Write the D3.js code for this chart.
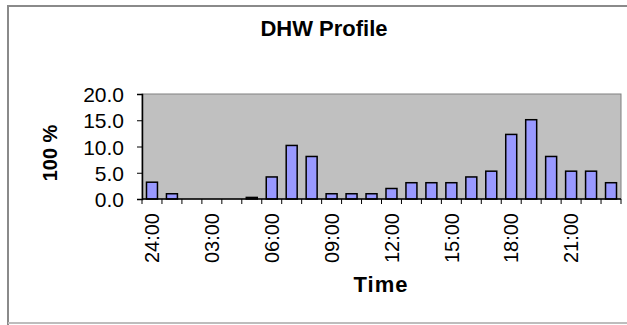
<!DOCTYPE html>
<html>
<head>
<meta charset="utf-8">
<script src="https://cdn.jsdelivr.net/npm/d3@7"></script>
<style>
  html, body { margin: 0; padding: 0; background: #fff; }
  svg text { font-family: "Liberation Sans", Arial, sans-serif; fill: #000; }
</style>
</head>
<body>
<svg id="chart" width="627" height="325"></svg>
<script>
// Hourly domestic hot water draw profile (% of daily volume)
const hours = ["24:00","01:00","02:00","03:00","04:00","05:00","06:00","07:00",
               "08:00","09:00","10:00","11:00","12:00","13:00","14:00","15:00",
               "16:00","17:00","18:00","19:00","20:00","21:00","22:00","23:00"];
const share = [3.2, 1.0, 0, 0, 0, 0.3, 4.2, 10.2, 8.1, 1.0, 1.0, 1.0,
               2.0, 3.1, 3.1, 3.1, 4.2, 5.3, 12.3, 15.1, 8.1, 5.3, 5.3, 3.1];
const yTicks = [0, 5, 10, 15, 20];
const shownHours = ["24:00","03:00","06:00","09:00","12:00","15:00","18:00","21:00"];

const svg = d3.select("#chart");
const plot = { left: 142, right: 621, top: 94, bottom: 199 };

// outer frame of the chart object
svg.append("path")
  .attr("d", "M8,330 V6 H640")
  .attr("fill", "none").attr("stroke", "#8a8a8a").attr("stroke-width", 2);
svg.append("line")
  .attr("x1", 8).attr("x2", 640).attr("y1", 323).attr("y2", 323)
  .attr("stroke", "#bdbdbd").attr("stroke-width", 2);

const x = d3.scaleBand().domain(hours).range([plot.left, plot.right])
  .paddingInner(0.45).paddingOuter(0.225);
const y = d3.scaleLinear().domain([0, 20]).range([plot.bottom, plot.top]);

// plot area
svg.append("rect")
  .attr("x", plot.left).attr("y", plot.top)
  .attr("width", plot.right - plot.left).attr("height", plot.bottom - plot.top)
  .attr("fill", "#c0c0c0").attr("stroke", "#808080").attr("stroke-width", 1);

// bars
svg.append("g").selectAll("rect")
  .data(hours.map((h, i) => ({ h, v: share[i] })).filter(d => d.v > 0))
  .join("rect")
  .attr("x", d => x(d.h))
  .attr("y", d => y(d.v))
  .attr("width", x.bandwidth())
  .attr("height", d => y(0) - y(d.v))
  .attr("fill", "#9999ff")
  .attr("stroke", "#000").attr("stroke-width", 1.5);

// y axis
const yAxis = svg.append("g")
  .attr("transform", `translate(${plot.left},0)`)
  .call(d3.axisLeft(y).tickValues(yTicks).tickFormat(d3.format(".1f"))
    .tickSize(5).tickPadding(13));
yAxis.select(".domain").attr("stroke", "#000").attr("stroke-width", 1.5);
yAxis.selectAll(".tick line").attr("stroke", "#000");
yAxis.selectAll("text").style("font-size", "21px").attr("dy", "0.36em");

// x axis: tick marks on category boundaries, labels every third hour
const xg = svg.append("g");
xg.append("line")
  .attr("x1", plot.left).attr("x2", plot.right)
  .attr("y1", plot.bottom).attr("y2", plot.bottom)
  .attr("stroke", "#000").attr("stroke-width", 1.5);
xg.selectAll("line.tk")
  .data(d3.range(hours.length + 1))
  .join("line").attr("class", "tk")
  .attr("x1", i => plot.left + i * x.step())
  .attr("x2", i => plot.left + i * x.step())
  .attr("y1", plot.bottom).attr("y2", plot.bottom + 5)
  .attr("stroke", "#000");
xg.selectAll("text")
  .data(shownHours)
  .join("text")
  .attr("transform", d => `translate(${x(d) + x.bandwidth() / 2},${plot.bottom + 14}) rotate(-90)`)
  .attr("text-anchor", "end")
  .attr("dy", "0.36em")
  .style("font-size", "20px")
  .text(d => d);

// titles
svg.append("text")
  .attr("x", 324).attr("y", 36)
  .attr("text-anchor", "middle")
  .style("font-size", "22px").style("font-weight", "bold")
  .text("DHW Profile");
svg.append("text")
  .attr("x", 381).attr("y", 292)
  .attr("text-anchor", "middle")
  .style("font-size", "22px").style("font-weight", "bold")
  .style("letter-spacing", "1px")
  .text("Time");
svg.append("text")
  .attr("transform", "translate(50,153) rotate(-90)")
  .attr("text-anchor", "middle")
  .attr("dy", "0.36em")
  .style("font-size", "20px").style("font-weight", "bold")
  .text("100 %");
</script>
</body>
</html>
